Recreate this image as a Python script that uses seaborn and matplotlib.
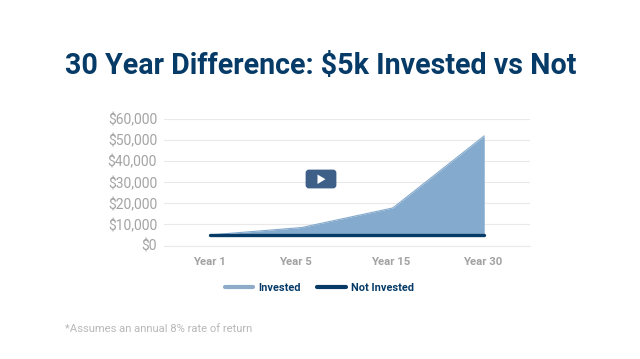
import matplotlib
matplotlib.use('Agg')
import matplotlib.pyplot as plt
import matplotlib.transforms as mtrans
import pandas as pd
import seaborn as sns
from matplotlib.patches import FancyBboxPatch, Polygon

# data
years = ["Year 1", "Year 5", "Year 15", "Year 30"]
invested = [5000, 8500, 17800, 52000]
not_invested = [5000, 5000, 5000, 5000]
y_ticks = [0, 10000, 20000, 30000, 40000, 50000, 60000]

NAVY = "#063b68"
AREA = "#84aacd"
LEGEND_LIGHT = "#8eabca"
GREY = "#a3a3a3"

sns.set_theme(style="white")
plt.rcParams["font.family"] = "Roboto"

df = pd.DataFrame({
    "year": years * 2,
    "value": invested + not_invested,
    "series": ["Invested"] * 4 + ["Not Invested"] * 4,
})

W, H = 640, 359
fig = plt.figure(figsize=(W / 100, H / 100), dpi=100)
ax = fig.add_axes([164 / W, 1 - 245.5 / H, 366 / W, 126.5 / H])

x = list(range(len(years)))
ax.fill_between(x, not_invested, invested, color=AREA, lw=0, zorder=2)
sns.lineplot(data=df[df.series == "Invested"], x="year", y="value", sort=False,
             color=AREA, lw=0.8, ax=ax, zorder=2)
sns.lineplot(data=df[df.series == "Not Invested"], x="year", y="value", sort=False,
             color=NAVY, lw=2.4, ax=ax, zorder=3)

ax.set_xlim(-0.5, 3.5)
ax.set_ylim(0, 60000)
ax.set_yticks(y_ticks)
ax.set_yticklabels([f"${v:,}" for v in y_ticks])
ax.set_xlabel("")
ax.set_ylabel("")
ax.grid(axis="y", color="#e9e9e9", lw=0.8)
ax.set_axisbelow(True)
sns.despine(ax=ax, left=True, bottom=True)
ax.tick_params(axis="y", length=0, pad=5, labelsize=10, labelcolor=GREY)
ax.tick_params(axis="x", length=0, pad=8, labelsize=8.2, labelcolor=GREY)

# x labels in the picture are not quite centred under the points
label_shift = [0, -6, -2, -2]
for t, dx in zip(ax.get_xticklabels(), label_shift):
    t.set_fontweight("bold")
    t.set_transform(t.get_transform() + mtrans.ScaledTranslation(dx / 100, 0, fig.dpi_scale_trans))
for sp in ax.spines.values():
    sp.set_visible(False)
# $0 gridline sits on the axes edge
ax.axhline(0, color="#e9e9e9", lw=0.8, zorder=1, clip_on=False)

# title and footnote
fig.text(321 / W, 1 - 66 / H, "30 Year Difference: $5k Invested vs Not", ha="center", va="center",
         fontsize=20.6, fontweight="bold", color=NAVY)
fig.text(65 / W, 1 - 329 / H, "*Assumes an annual 8% rate of return", ha="left", va="center",
         fontsize=8.15, color="#b8b8b8")

# legend
handles = [plt.Line2D([], [], color=LEGEND_LIGHT, lw=3, solid_capstyle="round"),
           plt.Line2D([], [], color=NAVY, lw=3, solid_capstyle="round")]
fig.legend(handles, ["Invested", "Not Invested"], loc="center", bbox_to_anchor=(319.5 / W, 1 - 288 / H),
           ncol=2, frameon=False, handlelength=2.6, handletextpad=0.5, columnspacing=1.5,
           prop={"family": "Roboto", "weight": "bold", "size": 7.9}, labelcolor=NAVY)

# video play button baked into the picture
overlay = fig.add_axes([0, 0, 1, 1], facecolor="none")
overlay.set_xlim(0, W)
overlay.set_ylim(H, 0)
overlay.axis("off")
overlay.add_patch(FancyBboxPatch((307, 171), 28, 16, boxstyle="round,pad=0,rounding_size=2",
                                 mutation_aspect=1, fc="#3d5f88", ec="#3d5f88", lw=2))
overlay.add_patch(Polygon([[317.5, 174.5], [317.5, 184], [325.5, 179.2]], fc="white", ec="none"))

fig.savefig("out.png", dpi=100)
plt.close(fig)
